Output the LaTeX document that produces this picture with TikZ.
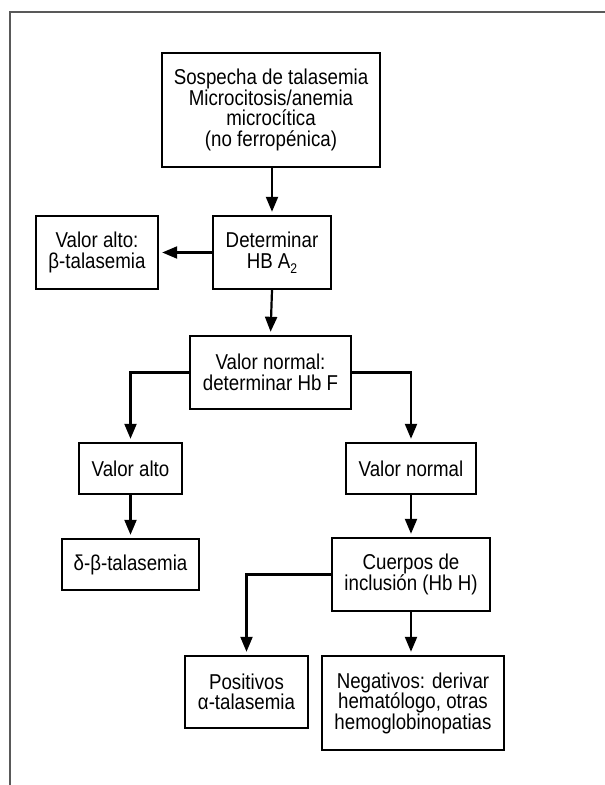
\documentclass[tikz,border=0pt]{standalone}
\usepackage{fontspec}
\setmainfont[FakeStretch=0.87]{Liberation Sans}
\usetikzlibrary{arrows.meta}
\begin{document}
\begin{tikzpicture}[x=1pt,y=-1pt,
  box/.style={draw, line width=2.4pt, align=center, inner sep=0pt, font=\fontsize{21.5}{20.5}\selectfont},
  arr/.style={-{Triangle[length=15pt,width=12pt]}, line width=2.2pt, shorten >=3pt},
  conn/.style={line width=2.2pt}]
\useasboundingbox (0,0) rectangle (605,785);
\draw[line width=1.3pt, black!65] (10,785) -- (10,12) -- (605,12);
\node[box, minimum width=218pt, minimum height=114pt] (b1) at (271,110) {Sospecha de talasemia\\Microcitosis/anemia\\microcítica\\(no ferropénica)};
\node[box, minimum width=118pt, minimum height=73pt] (b2) at (272,252.5) {Determinar\\HB A\raisebox{-5pt}{\fontsize{14}{14}\selectfont 2}};
\node[box, minimum width=122pt, minimum height=73pt] (beta) at (97,252.5) {Valor alto:\\β-talasemia};
\node[box, minimum width=161pt, minimum height=73pt] (b3) at (270.5,372.5) {Valor normal:\\determinar Hb F};
\node[box, minimum width=103pt, minimum height=51pt] (va) at (130.5,468.5) {Valor alto};
\node[box, minimum width=130pt, minimum height=51pt] (vn) at (411,468.5) {Valor normal};
\node[box, minimum width=137pt, minimum height=51pt] (db) at (130.5,564.5) {δ-β-talasemia};
\node[box, minimum width=158pt, minimum height=73pt] (cu) at (411,574.5) {Cuerpos de\\inclusión (Hb H)};
\node[box, minimum width=123pt, minimum height=72pt] (po) at (246.5,692) {Positivos\\α-talasemia};
\node[box, minimum width=182pt, minimum height=94pt] (ne) at (413,703) {Negativos: derivar\\hematólogo, otras\\hemoglobinopatias};
\draw[arr] (b2.north |- b1.south) -- (b2.north);
\draw[arr] (b2.west) -- (beta.east);
\draw[arr] (b2.south) -- (b3.north);
\draw[arr] (b3.west) -| (va.north);
\draw[arr] (b3.east) -| (vn.north);
\draw[arr] (va.south) -- (db.north);
\draw[arr] (vn.south) -- (cu.north);
\draw[arr] (cu.west) -| (po.north);
\draw[arr] (cu.south) -- (cu.south |- ne.north);
\end{tikzpicture}
\end{document}
